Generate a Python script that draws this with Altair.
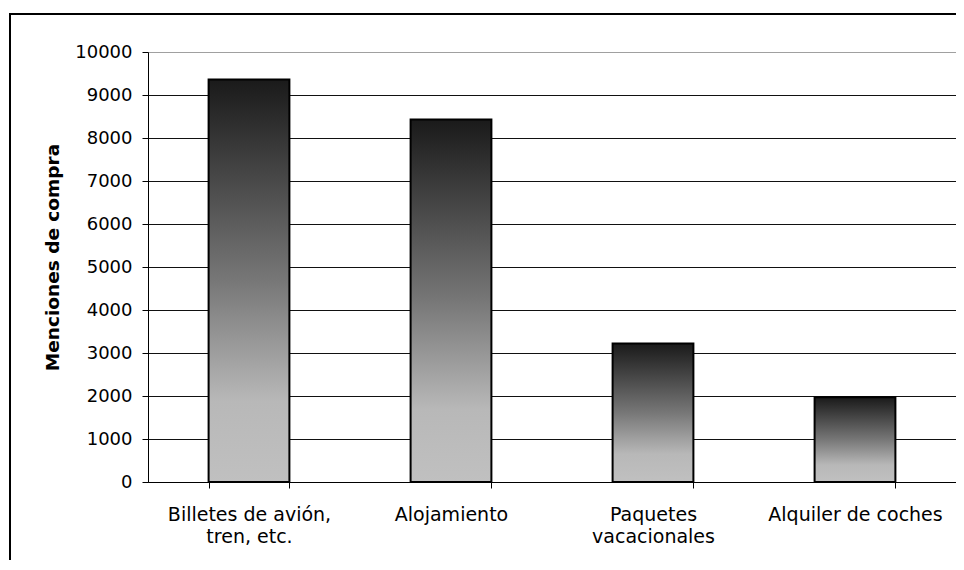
import altair as alt
import pandas as pd

categories = ["Billetes de avión, tren, etc.", "Alojamiento", "Paquetes vacacionales", "Alquiler de coches"]
label_lines = [["Billetes de avión,", "tren, etc."], ["Alojamiento"], ["Paquetes", "vacacionales"], ["Alquiler de coches"]]
values = [9360, 8430, 3220, 1970]
y_ticks = [0, 1000, 2000, 3000, 4000, 5000, 6000, 7000, 8000, 9000, 10000]

df = pd.DataFrame({"categoria": categories, "menciones": values})

# label expression with line breaks
expr = "datum.label"
for cat, lines in zip(categories, label_lines):
    arr = "[" + ", ".join("'" + l + "'" for l in lines) + "]"
    expr = f"datum.label == '{cat}' ? {arr} : ({expr})"

FONT = "DejaVu Sans"

grad = alt.Gradient(
    gradient="linear",
    stops=[
        alt.GradientStop(color="#1a1a1a", offset=0),
        alt.GradientStop(color="#777777", offset=0.5),
        alt.GradientStop(color="#b8b8b8", offset=0.8),
        alt.GradientStop(color="#c0c0c0", offset=1),
    ],
    x1=0, x2=0, y1=0, y2=1,
)

bars = alt.Chart(df).mark_bar(color=grad, stroke="#000000", strokeWidth=2).encode(
    x=alt.X(
        "categoria:N",
        sort=categories,
        scale=alt.Scale(paddingInner=0.6, paddingOuter=0.3),
        axis=alt.Axis(
            title=None,
            labelAngle=0,
            labelExpr=expr,
            labelFont=FONT,
            labelFontSize=19,
            labelColor="#000000",
            labelPadding=17,
            labelLineHeight=22,
            tickBand="extent",
            tickSize=6,
            tickColor="#000000",
            domainColor="#000000",
            grid=False,
        ),
    ),
    y=alt.Y(
        "menciones:Q",
        scale=alt.Scale(domain=[0, 10000], nice=False),
        axis=alt.Axis(
            title="Menciones de compra",
            values=y_ticks,
            format="d",
            labelFont=FONT,
            labelFontSize=18,
            labelColor="#000000",
            labelPadding=10,
            tickSize=6,
            tickColor="#000000",
            domainColor="#000000",
            gridColor={"condition": {"test": "datum.value >= 10000", "value": "#a0a0a0"}, "value": "#111111"},
            titleFont=FONT,
            titleFontSize=18.5,
            titleFontWeight="bold",
            titleColor="#000000",
            titleY=205,
            titlePadding=12,
        ),
    ),
)

frame = alt.Chart(alt.Data(values=[{}])).mark_rect(
    fill="transparent", stroke="#000000", strokeWidth=2
).encode(
    x=alt.value(-138), x2=alt.value(830), y=alt.value(-38), y2=alt.value(540)
)

chart = alt.layer(bars, frame).properties(
    width=808,
    height=430,
    autosize=alt.AutoSizeParams(type="none"),
    padding={"left": 140, "top": 44, "right": 0, "bottom": 78},
).configure_view(
    fill="#fbfbfb", stroke="#a0a0a0", strokeWidth=2
).configure(background="#ffffff")

chart.save("out.html", embed_options={"renderer": "svg", "actions": False})
